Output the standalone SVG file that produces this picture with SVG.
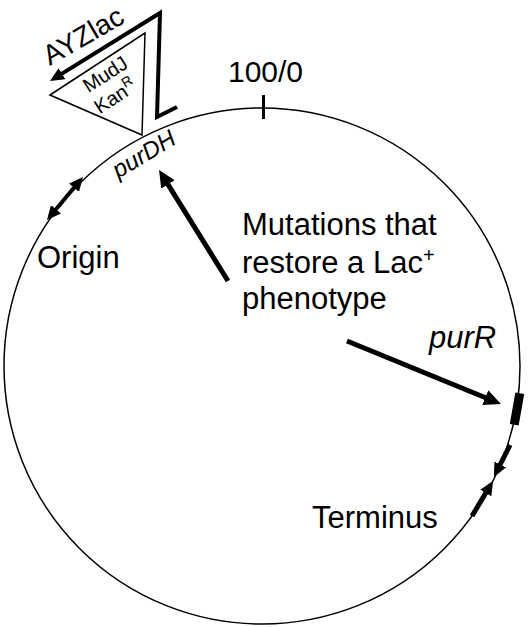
<svg xmlns="http://www.w3.org/2000/svg" width="531" height="627" viewBox="0 0 531 627">
<style>
text{font-family:"Liberation Sans",Arial,sans-serif;fill:#000}
.lbl{font-size:31px}
.it{font-style:italic}
.thin{fill:none;stroke:#000;stroke-width:1.5}
.arr{fill:none;stroke:#000;stroke-width:5}
.arr4{fill:none;stroke:#000;stroke-width:4}
</style>
<defs>
<marker id="ah" viewBox="0 0 17 16" markerUnits="userSpaceOnUse" markerWidth="17" markerHeight="16" refX="11" refY="8" orient="auto-start-reverse"><path d="M0,0 L17,8 L0,16 z" fill="#000"/></marker>
<marker id="ah2" viewBox="0 0 14 13" markerUnits="userSpaceOnUse" markerWidth="14" markerHeight="13" refX="9" refY="6.5" orient="auto-start-reverse"><path d="M0,0 L14,6.5 L0,13 z" fill="#000"/></marker>
</defs>
<rect width="531" height="627" fill="#fff"/>
<g id="chromosome">
<circle cx="262" cy="366" r="258" class="thin"/>
<line x1="263.5" y1="95" x2="263.5" y2="119" stroke="#000" stroke-width="3"/>
<text x="265.5" y="82" font-size="30" text-anchor="middle">100/0</text>
</g>
<g id="mudj">
<polygon points="50,95 145,33 142,135" class="thin"/>
<g transform="translate(109,80) rotate(-33)"><text font-size="20" text-anchor="middle">MudJ</text></g>
<g transform="translate(119,102) rotate(-33)"><text font-size="20" text-anchor="middle">Kan<tspan font-size="14" dy="-8">R</tspan></text></g>
</g>
<g id="ayzlac">
<polyline points="177,107 157,117 160,13 54.3,78.4" class="arr4" stroke-linejoin="miter" marker-end="url(#ah2)"/>
<g transform="translate(88,44) rotate(-30)"><text font-size="28" text-anchor="middle">AYZlac</text></g>
</g>
<g id="purDH">
<g transform="translate(148,161) rotate(-31)"><text font-size="24" class="it" text-anchor="middle">purDH</text></g>
</g>
<g id="origin">
<text x="37" y="268" class="lbl">Origin</text>
</g>
<g id="mutations">
<text x="242" y="235" class="lbl">Mutations that</text>
<text x="242" y="273" class="lbl">restore a Lac<tspan font-size="20" dy="-11">+</tspan></text>
<text x="242" y="309" class="lbl">phenotype</text>
</g>
<g id="purR">
<text x="429" y="348" class="lbl it">purR</text>
<rect x="512.5" y="393" width="9" height="32" fill="#000" transform="rotate(10 517 409)"/>
</g>
<g id="terminus">
<text x="312" y="528" class="lbl">Terminus</text>
</g>
<g id="connectors">
<line x1="228" y1="281" x2="162.2" y2="175.1" class="arr" marker-end="url(#ah)"/>
<line x1="347" y1="341" x2="495.4" y2="401.7" class="arr" marker-end="url(#ah)"/>
<line x1="50.2" y1="216.2" x2="79.8" y2="180.8" class="arr4" marker-start="url(#ah2)" marker-end="url(#ah2)"/>
<line x1="510" y1="445" x2="496.2" y2="472.5" class="arr" marker-end="url(#ah2)"/>
<line x1="472" y1="516" x2="490.4" y2="485.3" class="arr" marker-end="url(#ah2)"/>
</g>
</svg>
